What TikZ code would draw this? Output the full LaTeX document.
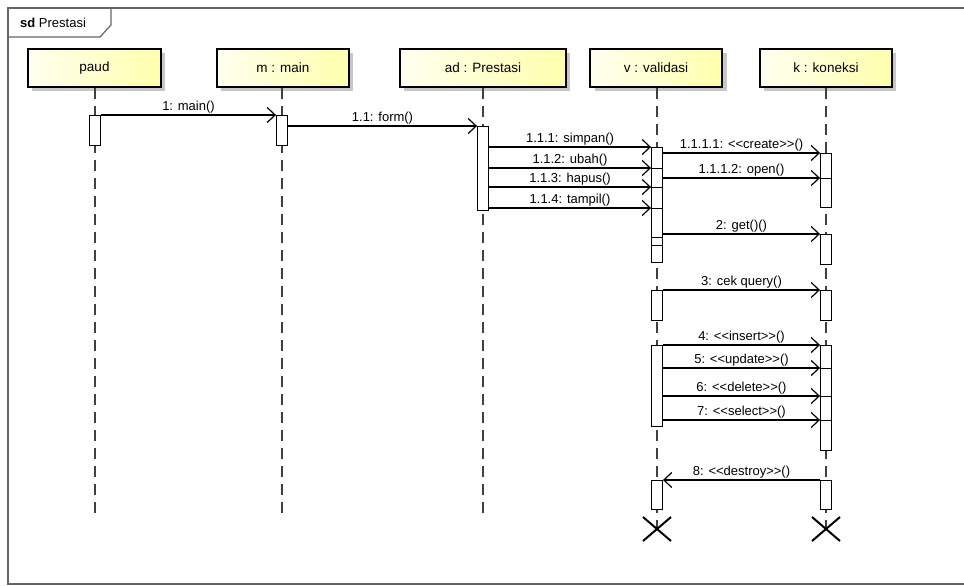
\documentclass[tikz,border=0pt]{standalone}
\usepackage{fontspec}
\setmainfont{Liberation Sans}
\usetikzlibrary{arrows.meta,calc}
\newcommand\myopen{<\kern0pt<}
\newcommand\myclose{>\kern0pt>}
\tikzset{
  head/.style={draw=black, line width=2.2pt, left color=yellow!6, right color=yellow!32,
    minimum height=38pt, inner sep=0pt, font=\fontsize{13.5}{16}\selectfont},
  act/.style={draw=black, fill=white, line width=0.9pt, minimum width=11pt, inner sep=0pt, anchor=north},
  life/.style={draw=black!75, line width=1.2pt, dash pattern=on 11pt off 7pt},
  msg/.style={draw=black, line width=1.2pt, -{Straight Barb[length=8pt,width=15pt,line width=1.2pt]}},
  lbl/.style={above, inner sep=0.8pt, font=\fontsize{13}{15}\selectfont},
  killx/.style={line width=2pt, black}
}
\begin{document}
\begin{tikzpicture}[x=1pt,y=-1pt]
\useasboundingbox (0,0) rectangle (964,586);
\fill[white] (0,0) rectangle (964,586);
% frame
\draw[black!60, line width=1.5pt] (8,8) rectangle (972,584);
\draw[black!60, line width=1.2pt] (8,37) -- (100,37) -- (111,25) -- (111,8);
\node[anchor=west, inner sep=0pt, font=\fontsize{13}{15}\selectfont] (title) at (20,23) {\textbf{sd} Prestasi};
% head shadows
\fill[black!22] (32,53) rectangle (165,91);
\fill[black!22] (221,53) rectangle (353,91);
\fill[black!22] (404,53) rectangle (570,91);
\fill[black!22] (595,53) rectangle (727,91);
\fill[black!22] (764,53) rectangle (896,91);
% heads
\node[head, minimum width=133pt] (paud) at (94.5,68) {paud};
\node[head, minimum width=132pt] (main) at (283,68) {m : main};
\node[head, minimum width=166pt] (ad) at (483,68) {ad : Prestasi};
\node[head, minimum width=132pt] (val) at (656,68) {v : validasi};
\node[head, minimum width=132pt] (kon) at (826,68) {k : koneksi};
% end coordinates
\coordinate (pend) at (95,518);
\coordinate (mend) at (282,518);
\coordinate (aend) at (483,520);
\coordinate (vx) at (657,529);
\coordinate (kx) at (826,529);
% lifelines
\draw[life] (paud.south -| pend) -- (pend);
\draw[life] (main.south -| mend) -- (mend);
\draw[life] (ad.south -| aend) -- (aend);
\draw[life] (val.south -| vx) -- (vx);
\draw[life] (kon.south -| kx) -- (kx);
% activations
\node[act, minimum height=30pt] (pa) at (95,115) {};
\node[act, minimum height=30pt] (ma) at (282,115) {};
\node[act, minimum height=84pt] (aa) at (483,126) {};
\node[act, minimum height=21pt] (va1) at (657,147) {};
\node[act, minimum height=19pt] (va2) at (657,168) {};
\node[act, minimum height=21pt] (va3) at (657,187) {};
\node[act, minimum height=29pt] (va4) at (657,208) {};
\node[act, minimum height=8pt] (va5) at (657,237) {};
\node[act, minimum height=17pt] (va6) at (657,245) {};
\node[act, minimum height=25pt] (ka1) at (826,153) {};
\node[act, minimum height=29pt] (ka2) at (826,178) {};
\node[act, minimum height=30pt] (kb) at (826,234) {};
\node[act, minimum height=30pt] (vc) at (657,290) {};
\node[act, minimum height=30pt] (kc) at (826,290) {};
\node[act, minimum height=81pt] (vd) at (657,345) {};
\node[act, minimum height=23pt] (ke1) at (826,345) {};
\node[act, minimum height=28pt] (ke2) at (826,368) {};
\node[act, minimum height=24pt] (ke3) at (826,396) {};
\node[act, minimum height=30pt] (ke4) at (826,420) {};
\node[act, minimum height=29pt] (vf) at (657,480) {};
\node[act, minimum height=29pt] (kf) at (826,480) {};
% destroy marks
\draw[killx] ([xshift=-14pt,yshift=12pt]vx) -- ([xshift=14pt,yshift=-12pt]vx);
\draw[killx] ([xshift=-14pt,yshift=-12pt]vx) -- ([xshift=14pt,yshift=12pt]vx);
\draw[killx] ([xshift=-14pt,yshift=12pt]kx) -- ([xshift=14pt,yshift=-12pt]kx);
\draw[killx] ([xshift=-14pt,yshift=-12pt]kx) -- ([xshift=14pt,yshift=12pt]kx);
% messages
\draw[msg] (pa.north east) -- node[lbl] {1: main()} (ma.north west);
\draw[msg] (ma.east |- aa.north) -- node[lbl] {1.1: form()} (aa.north west);
\draw[msg] (aa.east |- va1.north) -- node[lbl] {1.1.1: simpan()} (va1.north west);
\draw[msg] (aa.east |- va2.north) -- node[lbl] {1.1.2: ubah()} (va2.north west);
\draw[msg] (aa.east |- va3.north) -- node[lbl] {1.1.3: hapus()} (va3.north west);
\draw[msg] (aa.east |- va4.north) -- node[lbl] {1.1.4: tampil()} (va4.north west);
\draw[msg] (va1.east |- ka1.north) -- node[lbl] {1.1.1.1: \myopen create\myclose()} (ka1.north west);
\draw[msg] (va2.east |- ka2.north) -- node[lbl] {1.1.1.2: open()} (ka2.north west);
\draw[msg] (va4.east |- kb.north) -- node[lbl] {2: get()()} (kb.north west);
\draw[msg] (vc.north east) -- node[lbl] {3: cek query()} (kc.north west);
\draw[msg] (vd.north east) -- node[lbl] {4: \myopen insert\myclose()} (ke1.north west);
\draw[msg] (vd.east |- ke2.north) -- node[lbl] {5: \myopen update\myclose()} (ke2.north west);
\draw[msg] (vd.east |- ke3.north) -- node[lbl] {6: \myopen delete\myclose()} (ke3.north west);
\draw[msg] (vd.east |- ke4.north) -- node[lbl] {7: \myopen select\myclose()} (ke4.north west);
\draw[msg] (kf.north west) -- node[lbl] {8: \myopen destroy\myclose()} (vf.north east);
\end{tikzpicture}
\end{document}
